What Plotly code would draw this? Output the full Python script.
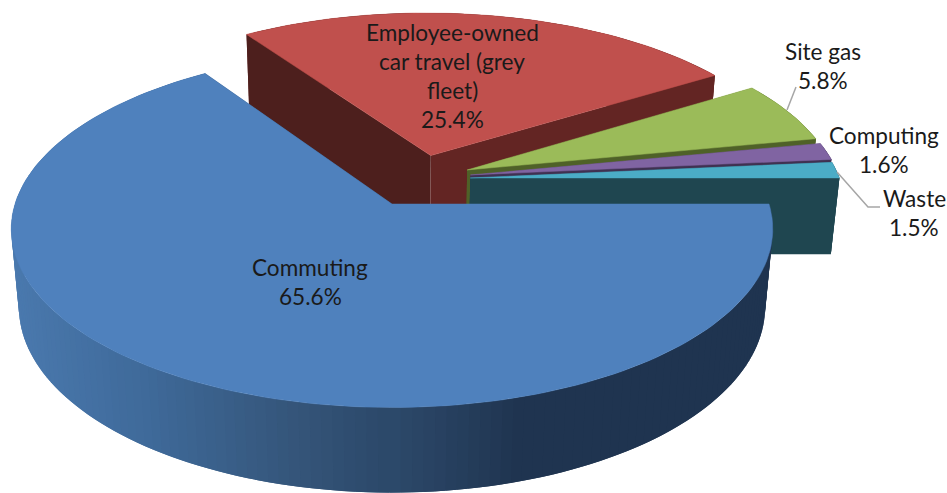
import numpy as np
import plotly.graph_objects as go

# Data
categories = ["Commuting", "Employee-owned car travel (grey fleet)", "Site gas", "Computing", "Waste"]
shares = [65.6, 25.4, 5.8, 1.6, 1.5]
label_lines = [
    ["Commuting", "65.6%"],
    ["Employee-owned", "car travel (grey", "fleet)", "25.4%"],
    ["Site gas", "5.8%"],
    ["Computing", "1.6%"],
    ["Waste", "1.5%"],
]

# Styling
top_colors = ["#4f81bd", "#c0504d", "#9bbb59", "#8064a2", "#4bacc6"]
cut_colors = [("#1f3450", "#1f3450"), ("#632523", "#4d1f1d"), ("#4f6128", "#4f6128"),
              ("#3f3151", "#3f3151"), ("#1f4650", "#1f4650")]
explode_uv = [(0.0, 0.0), (0.107, 0.288), (0.205, 0.200), (0.213, 0.170), (0.212, 0.152)]
label_anchor = [(310, 267), (452, 32), (823, 51), (884, 135), (914, 198)]
line_gap = 29.3
wall_stops_x = [12, 150, 300, 420, 520, 770]
wall_stops_rgb = np.array([[74, 121, 174], [63, 106, 154], [53, 86, 123],
                           [42, 69, 101], [31, 52, 80], [31, 52, 80]], float)
start_angle = 90.0

# Perspective camera for the disc: u to the right, v away from the viewer, z = 0 top / 1 base
X0, Y0, RX, RY, DEPTH, K_V, K_Z = 392.0, 204.0, 377.0, 175.0, 79.0, 0.14, 0.020


def project(u, v, z):
    w = 1 + K_V * v + K_Z * z
    return X0 + RX * u / w, Y0 + (-RY * v + DEPTH * z) / w


def polygon(xs, ys, color, width=0.0):
    return go.Scatter(x=xs, y=ys, mode="lines", fill="toself", fillcolor=color,
                      line=dict(color=color, width=width), hoverinfo="skip", showlegend=False)


def wall_color(idx, x_mid):
    if idx != 0:
        return cut_colors[idx][0]
    rgb = [np.interp(x_mid, wall_stops_x, wall_stops_rgb[:, c]) for c in range(3)]
    return "rgb({:.0f},{:.0f},{:.0f})".format(*rgb)


fig = go.Figure()
spans = np.array(shares) / sum(shares) * 360.0
starts = start_angle + np.concatenate([[0], np.cumsum(spans)[:-1]])

# Paint back slices first, the large front slice last
for idx in [1, 2, 3, 4, 0]:
    a0 = np.radians(starts[idx])
    a1 = np.radians(starts[idx] + spans[idx])
    ou, ov = explode_uv[idx]
    steps = max(6, int(spans[idx] / 1.5))
    ang = np.linspace(a0, a1, steps + 1)
    us, vs = ou + np.sin(ang), ov + np.cos(ang)

    faces = []
    for j in range(steps):
        # Each wall strip runs on under its neighbour so no hairline shows between them
        k = min(j + 2, steps)
        xa, ya = project(us[j], vs[j], 0)
        xb, yb = project(us[k], vs[k], 0)
        xm, ym = project(us[j + 1], vs[j + 1], 0)
        xc, yc = project(us[k], vs[k], 1)
        xn, yn = project(us[j + 1], vs[j + 1], 1)
        xd, yd = project(us[j], vs[j], 1)
        faces.append(((vs[j] + vs[j + 1]) / 2,
                      [xa, xm, xb, xc, xn, xd, xa], [ya, ym, yb, yc, yn, yd, ya],
                      wall_color(idx, (xa + xm) / 2)))
    for which, (eu, ev) in enumerate([(us[0], vs[0]), (us[-1], vs[-1])]):
        xa, ya = project(ou, ov, 0)
        xb, yb = project(eu, ev, 0)
        xc, yc = project(eu, ev, 1)
        xd, yd = project(ou, ov, 1)
        # The second slice shows two cut faces with different shades
        faces.append(((ov + ev) / 2, [xa, xb, xc, xd, xa], [ya, yb, yc, yd, ya],
                      cut_colors[idx][1 - which if idx == 1 else 0]))
    for _, xs, ys, col in sorted(faces, key=lambda f: -f[0]):
        fig.add_trace(polygon(xs, ys, col))

    tx, ty = project(np.concatenate([[ou], us, [ou]]), np.concatenate([[ov], vs, [ov]]), 0)
    fig.add_trace(polygon(tx, ty, top_colors[idx], 0.5))

# Leader lines for the outside labels
leaders = [([787, 796], [110, 87]), ([837, 868, 880], [172, 207, 207])]
for lx, ly in leaders:
    fig.add_trace(go.Scatter(x=lx, y=ly, mode="lines", line=dict(color="#a6a6a6", width=1.5),
                             hoverinfo="skip", showlegend=False))

# Data labels, one annotation per text line for even leading
for lines, (ax, ay) in zip(label_lines, label_anchor):
    for n, text in enumerate(lines):
        fig.add_annotation(x=ax, y=ay + n * line_gap, text=text, showarrow=False,
                           xref="x", yref="y", xanchor="center", yanchor="middle",
                           font=dict(family="Lato, Carlito, Calibri, sans-serif", size=22.6, color="#1a1a1a"))

fig.update_layout(
    width=947, height=493, autosize=False,
    margin=dict(l=0, r=0, t=0, b=0),
    paper_bgcolor="white", plot_bgcolor="white",
    xaxis=dict(range=[0, 947], visible=False, fixedrange=True),
    yaxis=dict(range=[493, 0], visible=False, fixedrange=True),
    showlegend=False,
)
fig.write_html("out.html", config={"displayModeBar": False})
